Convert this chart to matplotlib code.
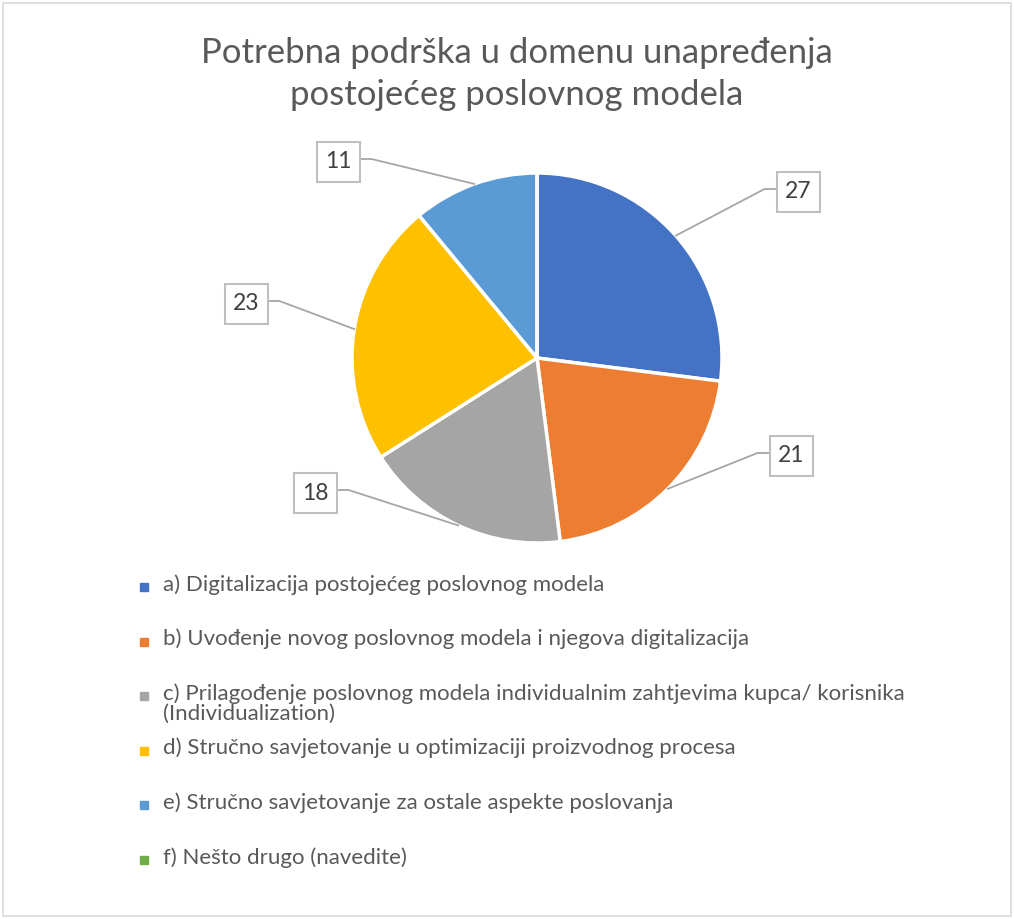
import numpy as np
import matplotlib
matplotlib.use("Agg")
import matplotlib.pyplot as plt
from matplotlib.patches import Rectangle

plt.rcParams['font.family'] = ['Lato', 'DejaVu Sans']

naslov = "Potrebna podrška u domenu unapređenja\npostojećeg poslovnog modela"
kategorije = [
    "a) Digitalizacija postojećeg poslovnog modela",
    "b) Uvođenje novog poslovnog modela i njegova digitalizacija",
    "c) Prilagođenje poslovnog modela individualnim zahtjevima kupca/ korisnika\n(Individualization)",
    "d) Stručno savjetovanje u optimizaciji proizvodnog procesa",
    "e) Stručno savjetovanje za ostale aspekte poslovanja",
    "f) Nešto drugo (navedite)",
]
vrijednosti = [27, 21, 18, 23, 11, 0]
boje = ["#4472C4", "#ED7D31", "#A5A5A5", "#FFC000", "#5B9BD5", "#70AD47"]

# layout (pixel coordinates, y up)
W, H = 1014, 919
stred = (537, 561)
polomjer = 185
# label box centres for the data labels a..e
pozicije_oznaka = [(798, 727), (791, 463), (315, 426), (246, 615), (338, 757)]
bw, bh = 43, 40

fig = plt.figure(figsize=(W / 100, H / 100), dpi=100)
ax = fig.add_axes([0, 0, 1, 1])

wedges, _ = ax.pie(vrijednosti, colors=boje, startangle=90, counterclock=False,
                   center=stred, radius=polomjer, frame=True,
                   wedgeprops=dict(edgecolor="white", linewidth=2.5))
ax.set_xlim(0, W)
ax.set_ylim(0, H)
ax.set_aspect("equal")
ax.axis("off")

# data labels with leader lines
ukupno = sum(vrijednosti)
kut = 90.0
for v, (bx, by) in zip(vrijednosti, pozicije_oznaka):
    sirina = 360.0 * v / ukupno
    mid = np.radians(kut - sirina / 2)
    kut -= sirina
    px = stred[0] + polomjer * np.cos(mid)
    py = stred[1] + polomjer * np.sin(mid)
    strana = -1 if bx > stred[0] else 1
    ex = bx + strana * bw / 2
    sx = ex + strana * 12
    ly = by + 3
    ax.plot([ex, sx, px], [ly, ly, py], color="#A6A6A6", lw=1.3, zorder=1)
    ax.add_patch(Rectangle((bx - bw / 2, by - bh / 2), bw, bh, fc="white",
                           ec="#BFBFBF", lw=1.5, zorder=4))
    ax.text(bx, by, str(v), ha="center", va="center", fontsize=16.5,
            color="#404040", zorder=5)

# title
ax.text(517, 845, naslov, ha="center", va="center", fontsize=25,
        color="#595959", linespacing=1.4)

# legend
y0 = 919 - 587
korak = 54.6
for i, (lab, c) in enumerate(zip(kategorije, boje)):
    y = y0 - i * korak
    ax.add_patch(Rectangle((140, y - 4), 8, 8, color=c))
    ax.text(163, y + 13, lab, ha="left", va="top", fontsize=16,
            color="#595959", linespacing=1.0)

# chart border
ax.add_patch(Rectangle((3, 3), W - 6, H - 6, fill=False, ec="#D9D9D9", lw=1.2))

fig.savefig("out.png", dpi=100)
